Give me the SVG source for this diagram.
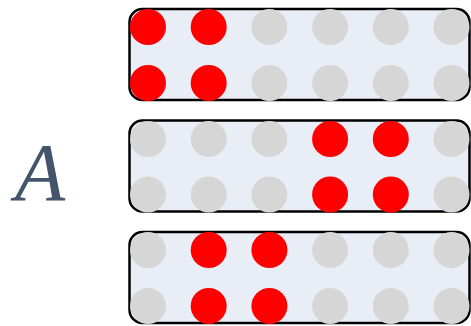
<svg xmlns="http://www.w3.org/2000/svg" width="471" height="326" viewBox="0 0 471 326">
<style>
.box{fill:#E9EDF6;stroke:#000;stroke-width:2.5}
.g{fill:#D6D6D6}
.r{fill:#FF0000}
.lbl{font-family:"Liberation Serif",serif;font-style:italic;font-size:82px;fill:#44546A}
</style>
<g id="label"><text class="lbl" x="15" y="200">A</text></g>
<g id="box1">
<rect class="box" x="129.5" y="9" width="340" height="91" rx="13"/>
<circle class="r" cx="148" cy="27" r="18"/><circle class="r" cx="208.7" cy="27" r="18"/><circle class="g" cx="269.4" cy="27" r="18"/><circle class="g" cx="330.1" cy="27" r="18"/><circle class="g" cx="390.8" cy="27" r="18"/><circle class="g" cx="451.5" cy="27" r="18"/>
<circle class="r" cx="148" cy="83" r="18"/><circle class="r" cx="208.7" cy="83" r="18"/><circle class="g" cx="269.4" cy="83" r="18"/><circle class="g" cx="330.1" cy="83" r="18"/><circle class="g" cx="390.8" cy="83" r="18"/><circle class="g" cx="451.5" cy="83" r="18"/>
</g>
<g id="box2">
<rect class="box" x="129.5" y="120.5" width="340" height="91" rx="13"/>
<circle class="g" cx="148" cy="139" r="18"/><circle class="g" cx="208.7" cy="139" r="18"/><circle class="g" cx="269.4" cy="139" r="18"/><circle class="r" cx="330.1" cy="139" r="18"/><circle class="r" cx="390.8" cy="139" r="18"/><circle class="g" cx="451.5" cy="139" r="18"/>
<circle class="g" cx="148" cy="194.5" r="18"/><circle class="g" cx="208.7" cy="194.5" r="18"/><circle class="g" cx="269.4" cy="194.5" r="18"/><circle class="r" cx="330.1" cy="194.5" r="18"/><circle class="r" cx="390.8" cy="194.5" r="18"/><circle class="g" cx="451.5" cy="194.5" r="18"/>
</g>
<g id="box3">
<rect class="box" x="129.5" y="232" width="340" height="91" rx="13"/>
<circle class="g" cx="148" cy="250" r="18"/><circle class="r" cx="208.7" cy="250" r="18"/><circle class="r" cx="269.4" cy="250" r="18"/><circle class="g" cx="330.1" cy="250" r="18"/><circle class="g" cx="390.8" cy="250" r="18"/><circle class="g" cx="451.5" cy="250" r="18"/>
<circle class="g" cx="148" cy="306" r="18"/><circle class="r" cx="208.7" cy="306" r="18"/><circle class="r" cx="269.4" cy="306" r="18"/><circle class="g" cx="330.1" cy="306" r="18"/><circle class="g" cx="390.8" cy="306" r="18"/><circle class="g" cx="451.5" cy="306" r="18"/>
</g>
</svg>
